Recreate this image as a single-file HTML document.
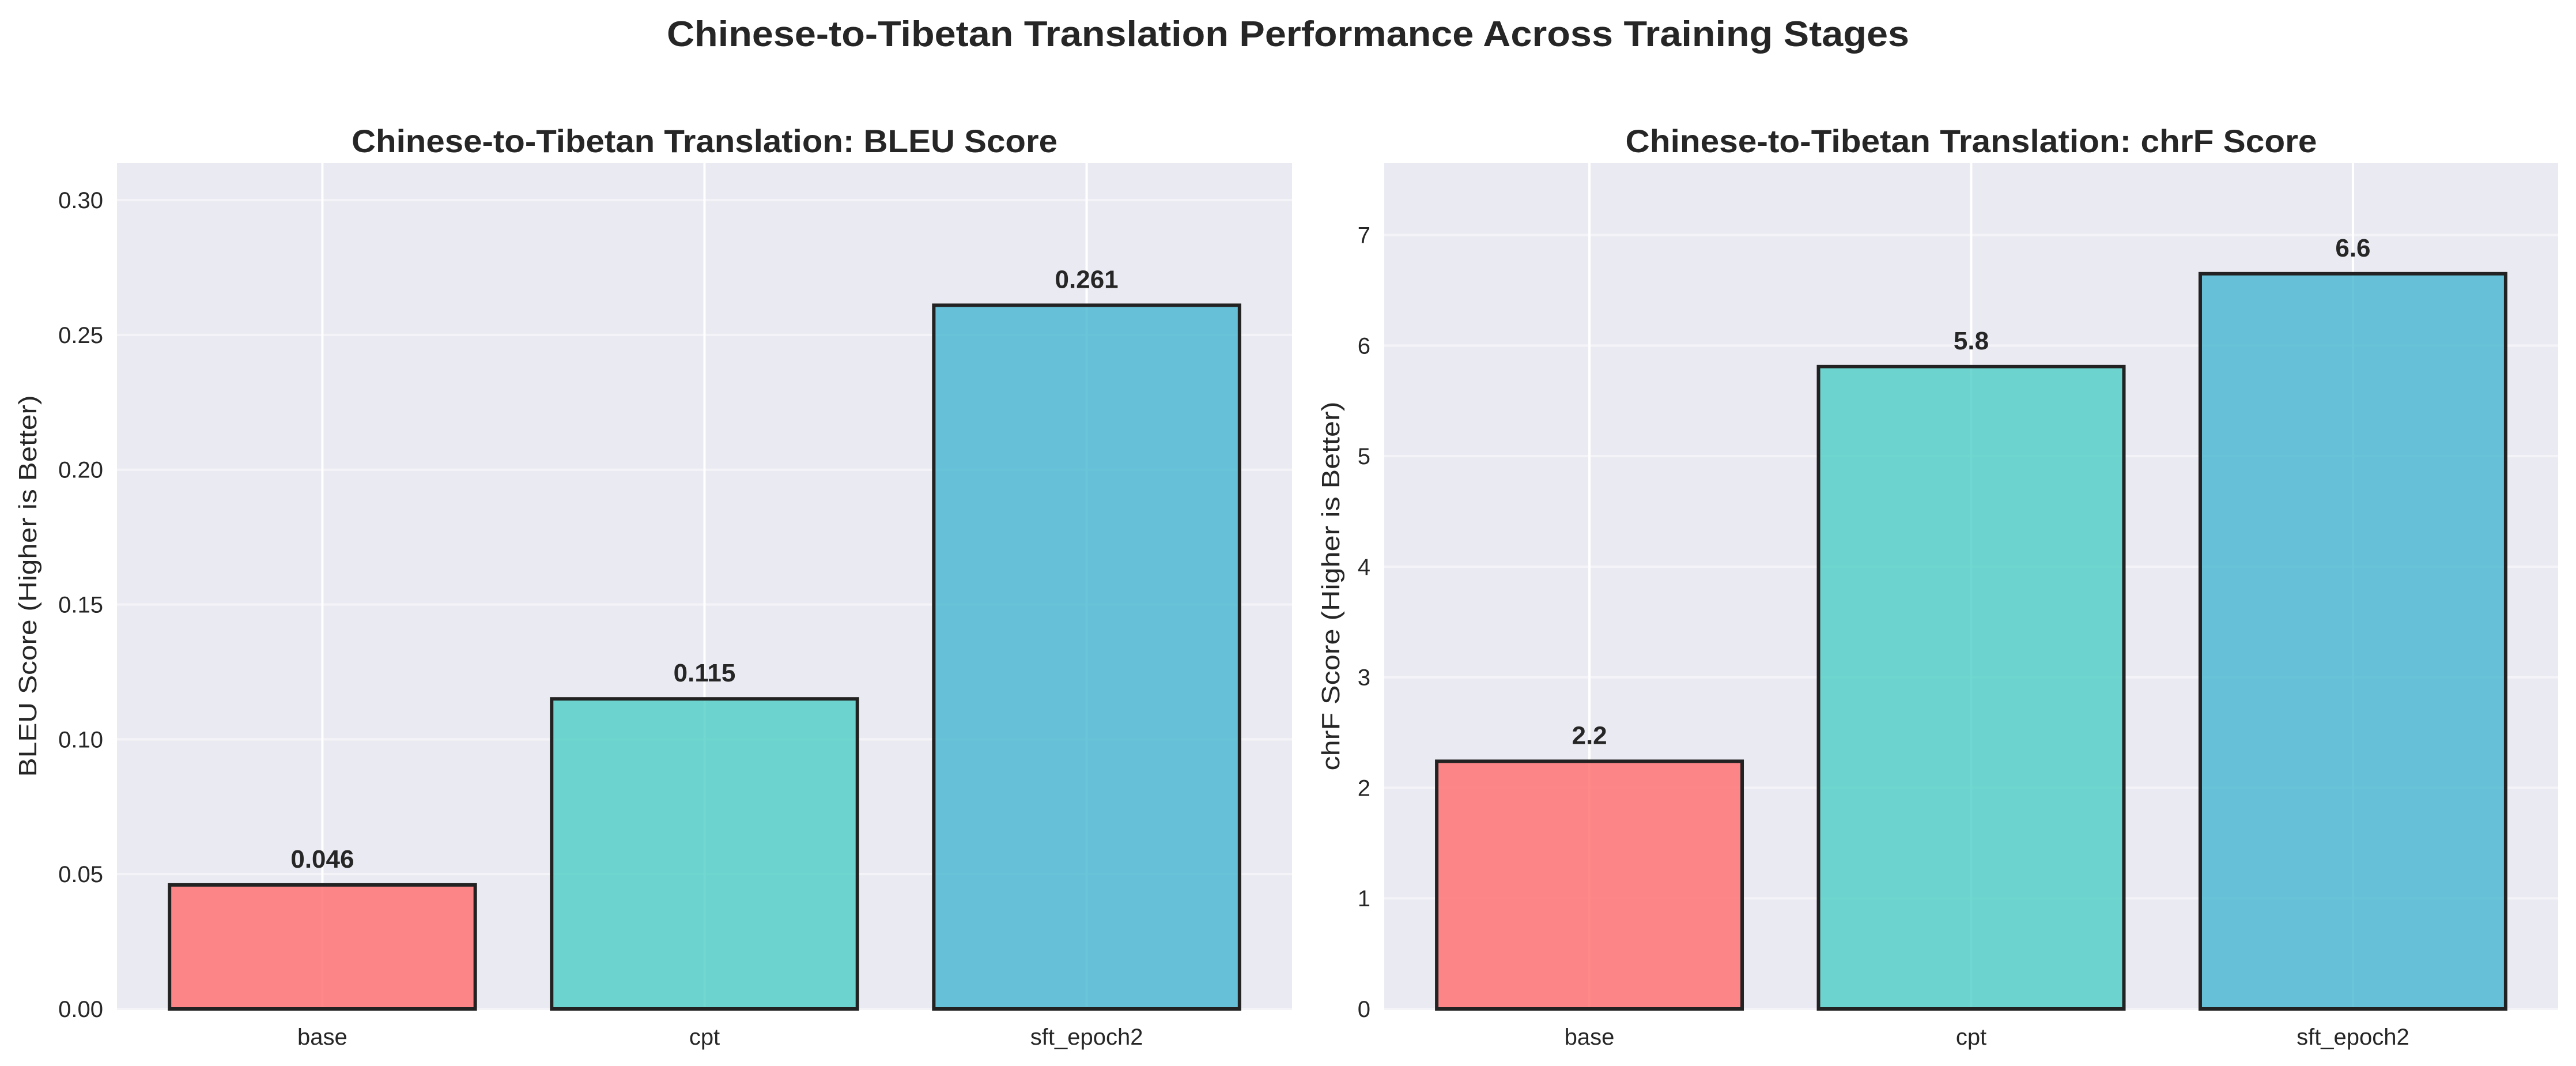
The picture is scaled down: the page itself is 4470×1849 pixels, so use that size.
<!DOCTYPE html>
<html><head><meta charset="utf-8"><style>
html,body{margin:0;padding:0;background:#fff;}
svg{display:block;font-family:"Liberation Sans",Arial,sans-serif;}
</style></head><body>
<svg id="chart" width="4470" height="1849" viewBox="0 0 4470 1849" xmlns="http://www.w3.org/2000/svg">
<text x="2235" y="80" text-anchor="middle" font-size="62" font-weight="bold" fill="#262626" textLength="2156" lengthAdjust="spacingAndGlyphs">Chinese-to-Tibetan Translation Performance Across Training Stages</text>
<g id="left"></g>
<g id="right"></g>
</svg>
<script>
const categories = ["base", "cpt", "sft_epoch2"];
const bleuValues = [0.046, 0.115, 0.261];
const bleuLabels = ["0.046", "0.115", "0.261"];
const bleuTicks = [0, 0.05, 0.10, 0.15, 0.20, 0.25, 0.30];
const bleuTickLabels = ["0.00", "0.05", "0.10", "0.15", "0.20", "0.25", "0.30"];
const chrfValues = [2.24, 5.81, 6.65];
const chrfLabels = ["2.2", "5.8", "6.6"];
const chrfTicks = [0, 1, 2, 3, 4, 5, 6, 7];
const chrfTickLabels = ["0", "1", "2", "3", "4", "5", "6", "7"];
const colors = ["#FF6B6B", "#4ECDC4", "#45B7D1"];

const NS = "http://www.w3.org/2000/svg";
function mk(parent, tag, attrs, text) {
  const e = document.createElementNS(NS, tag);
  for (const k in attrs) e.setAttribute(k, attrs[k]);
  if (text !== undefined) e.textContent = text;
  parent.appendChild(e);
  return e;
}
function panel(g, key, left, right, top, bottom, values, labels, ticks, tickLabels, ymax, title, ylabel, titleLen, ylabOffset, ylabLen) {
  const xmin = -0.5375, xmax = 2.5375;
  const xs = v => left + (v - xmin) / (xmax - xmin) * (right - left);
  const ys = v => bottom - v / ymax * (bottom - top);
  const bg = mk(g, "rect", {x: left, y: top, width: right - left, height: bottom - top, fill: "#EAEAF2"});
  
  
  ticks.forEach((t, i) => {
    const y = ys(t);
    const gl = mk(g, "line", {x1: left, x2: right, y1: y, y2: y, stroke: "#F4F4F8", "stroke-width": 4});
    
    
    const tl = mk(g, "text", {x: left - 24, y: y + 14, "text-anchor": "end", "font-size": 40, fill: "#262626"}, tickLabels[i]);
    
    
  });
  categories.forEach((c, i) => {
    const x = xs(i);
    const vl = mk(g, "line", {x1: x, x2: x, y1: top, y2: bottom, stroke: "#FFFFFF", "stroke-width": 4});
    
    
    const xl = mk(g, "text", {x: x, y: bottom + 62, "text-anchor": "middle", "font-size": 40, fill: "#262626"}, c);
    
    
  });
  categories.forEach((c, i) => {
    const w = 0.8 / (xmax - xmin) * (right - left);
    const x0 = xs(i) - w / 2, y0 = ys(values[i]);
    const b = mk(g, "rect", {x: x0, y: y0, width: w, height: bottom - y0, fill: colors[i], "fill-opacity": 0.8, stroke: "#222222", "stroke-width": 6});
    
    
    const vt = mk(g, "text", {x: xs(i), y: y0 - 30, "text-anchor": "middle", "font-size": 44, "font-weight": "bold", fill: "#262626"}, labels[i]);
    
    
  });
  const tt = mk(g, "text", {x: (left + right) / 2, y: 264, "text-anchor": "middle", "font-size": 56, "font-weight": "bold", fill: "#262626", textLength: titleLen, lengthAdjust: "spacingAndGlyphs"}, title);
  
  
  const yl = mk(g, "text", {x: 0, y: 0, "text-anchor": "middle", "font-size": 44, fill: "#262626", textLength: ylabLen, lengthAdjust: "spacingAndGlyphs", transform: "translate(" + (left - ylabOffset) + "," + ((top + bottom) / 2) + ") rotate(-90)"}, ylabel);
  
  
}
panel(document.getElementById("left"), "bleu", 203, 2242, 283, 1750, bleuValues, bleuLabels, bleuTicks, bleuTickLabels, 0.3137, "Chinese-to-Tibetan Translation: BLEU Score", "BLEU Score (Higher is Better)", 1225, 140, 662);
panel(document.getElementById("right"), "chrf", 2402, 4439, 283, 1750, chrfValues, chrfLabels, chrfTicks, chrfTickLabels, 7.65, "Chinese-to-Tibetan Translation: chrF Score", "chrF Score (Higher is Better)", 1200, 78, 640);
</script>
</body></html>
